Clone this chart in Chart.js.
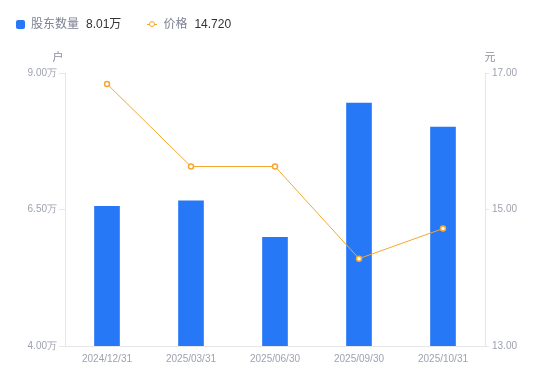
<!DOCTYPE html>
<html>
<head>
<meta charset="utf-8">
<script src="https://cdn.jsdelivr.net/npm/chart.js@4/dist/chart.umd.min.js"></script>
<style>
  html, body { margin: 0; padding: 0; background: #fff; }
  #wrap { position: relative; width: 550px; height: 381px; font-family: "Liberation Sans", "Noto Sans CJK SC", sans-serif; }
  #legend { position: absolute; left: 16px; top: 16px; font-size: 12px; line-height: 16px; display: flex; align-items: center; }
  .item { display: flex; align-items: center; margin-right: 26px; }
  .name { color: #7d8292; margin-right: 7px; }
  .val { color: #333; }
  .sq { width: 9px; height: 9px; border-radius: 2px; background: #2678f6; margin-right: 6px; }
  .ln { position: relative; width: 10px; height: 9px; margin-right: 6px; }
  .ln:before { content: ""; position: absolute; left: 0; right: 0; top: 4px; height: 1px; background: #f6a730; }
  .ln:after { content: ""; position: absolute; left: 2px; top: 1px; width: 4px; height: 4px; border: 1.5px solid #f6a730; border-radius: 50%; background: #fff; }
</style>
</head>
<body>
<div id="wrap">
  <canvas id="chart" width="550" height="381"></canvas>
  <div id="legend"></div>
</div>
<script>
// 日期
const dates = ['2024/12/31', '2025/03/31', '2025/06/30', '2025/09/30', '2025/10/31'];
// 股东数量（万户）
const holders = [6.56, 6.66, 5.99, 8.45, 8.01];
// 价格（元）
const prices = [16.84, 15.63, 15.63, 14.28, 14.72];

const blue = '#2678f6';
const orange = '#f6a730';
const tickColor = '#9ea2b0';
const axisColor = '#e6e6e8';

// 图例
document.getElementById('legend').innerHTML =
    '<div class="item"><span class="sq"></span><span class="name">股东数量</span><span class="val">' +
    holders[holders.length - 1].toFixed(2) + '万</span></div>' +
    '<div class="item"><span class="ln"></span><span class="name">价格</span><span class="val">' +
    prices[prices.length - 1].toFixed(3) + '</span></div>';

// 坐标轴单位
const unitPlugin = {
    id: 'units',
    afterDraw(chart) {
        const ctx = chart.ctx;
        const area = chart.chartArea;
        ctx.save();
        ctx.fillStyle = '#8a8e9c';
        ctx.font = '11px "Noto Sans CJK SC", sans-serif';
        ctx.textBaseline = 'middle';
        ctx.textAlign = 'center';
        ctx.fillText('户', area.left - 7, 57);
        ctx.fillText('元', area.right + 5, 57);
        ctx.restore();
    }
};

const ctx = document.getElementById('chart').getContext('2d');
new Chart(ctx, {
    data: {
        labels: dates,
        datasets: [{
            type: 'line',
            label: '价格',
            data: prices,
            yAxisID: 'y1',
            borderColor: orange,
            borderWidth: 1,
            pointRadius: 2.5,
            pointBorderWidth: 1.5,
            pointBackgroundColor: '#fff',
            pointBorderColor: orange,
            tension: 0,
            order: 0
        }, {
            type: 'bar',
            label: '股东数量',
            data: holders,
            yAxisID: 'y',
            backgroundColor: blue,
            barThickness: 25,
            order: 1
        }]
    },
    options: {
        responsive: false,
        animation: false,
        layout: { padding: { top: 73, left: 0, right: 0, bottom: 0 } },
        plugins: {
            legend: { display: false },
            tooltip: { enabled: false }
        },
        scales: {
            x: {
                afterFit: s => { s.height = 35; },
                grid: { display: true, drawOnChartArea: false, drawTicks: false },
                border: { display: true, color: axisColor },
                ticks: { color: tickColor, font: { size: 10 }, padding: 7, maxRotation: 0 }
            },
            y: {
                position: 'left',
                min: 4,
                max: 9,
                afterFit: s => { s.width = 65; },
                grid: { display: true, drawOnChartArea: false, tickLength: 6, color: axisColor },
                border: { display: true, color: axisColor },
                ticks: {
                    stepSize: 2.5,
                    color: tickColor,
                    font: { size: 10 },
                    padding: 2,
                    callback: v => v.toFixed(2) + '万'
                }
            },
            y1: {
                position: 'right',
                min: 13,
                max: 17,
                afterFit: s => { s.width = 65; },
                grid: { display: true, drawOnChartArea: false, tickLength: 4, color: axisColor },
                border: { display: true, color: axisColor },
                ticks: {
                    stepSize: 2,
                    color: tickColor,
                    font: { size: 10 },
                    padding: 3,
                    callback: v => v.toFixed(2)
                }
            }
        }
    },
    plugins: [unitPlugin]
});
</script>
</body>
</html>
